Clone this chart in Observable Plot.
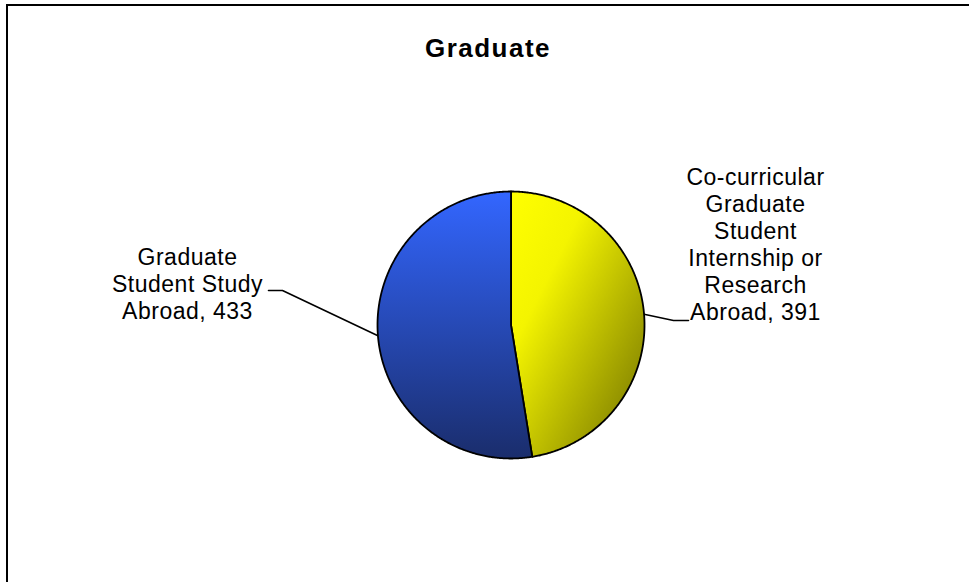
<!DOCTYPE html>
<html>
<head>
<meta charset="utf-8">
<script src="https://cdn.jsdelivr.net/npm/d3@7"></script>
<script src="https://cdn.jsdelivr.net/npm/@observablehq/plot@0.6"></script>
<style>
  html, body { margin: 0; padding: 0; background: #fff; }
  #page { position: relative; width: 969px; height: 582px; overflow: hidden; background: #fff; }
  #frame { position: absolute; left: 6px; top: 4px; right: -3px; bottom: -3px; border-left: 2px solid #000; border-top: 2px solid #000; }
  #title { position: absolute; left: 0; width: 976px; top: 35px; height: 30px; line-height: 26px; text-align: center;
           font-family: "Liberation Sans", Arial, sans-serif; font-weight: bold; font-size: 26px; letter-spacing: 1.5px; color: #000; }
  #chart { position: absolute; left: 0; top: 70px; }
</style>
</head>
<body>
<svg width="0" height="0" style="position:absolute">
  <defs>
    <linearGradient id="gradYellow" x1="0" y1="0" x2="1" y2="1">
      <stop offset="0" stop-color="#ffff00"/>
      <stop offset="0.3" stop-color="#f4f400"/>
      <stop offset="1" stop-color="#6e6e00"/>
    </linearGradient>
    <linearGradient id="gradBlue" x1="0" y1="0" x2="0" y2="1">
      <stop offset="0" stop-color="#3366ff"/>
      <stop offset="1" stop-color="#1a2d6c"/>
    </linearGradient>
  </defs>
</svg>
<div id="page">
  <div id="frame"></div>
  <div id="title">Graduate</div>
  <div id="chart"></div>
</div>
<script>
// ---- data ----
const categories = [
  "Co-curricular Graduate Student Internship or Research Abroad",
  "Graduate Student Study Abroad"
];
const values = [391, 433];
const labelTexts = [
  "Co-curricular\nGraduate\nStudent\nInternship or\nResearch\nAbroad",
  "Graduate\nStudent Study\nAbroad"
];
const sliceFills = ["url(#gradYellow)", "url(#gradBlue)"];

// ---- layout ----
const W = 969, H = 512;
const CX = 510.5, CY = 254.5, R = 133.5;
// label anchor (block center) and leader elbow/end offsets in pixels from pie center (y up)
const labelLayout = [
  {lx: 244.5, ly: 81.5, elbow: [162.5, 4.5], end: [177.5, 4.5]},
  {lx: -323.5, ly: 41.5, elbow: [-228.5, 34.5], end: [-242.5, 34.5]}
];

const pie = d3.pie().sort(null).value(d => d.value);
const arcs = pie(categories.map((c, i) => ({name: c, value: values[i], i})));

const marks = [];
arcs.forEach((a, k) => {
  const pts = [{x: 0, y: 0}];
  const n = Math.max(2, Math.ceil((a.endAngle - a.startAngle) / (Math.PI / 360)));
  for (let j = 0; j <= n; j++) {
    const t = a.startAngle + (a.endAngle - a.startAngle) * j / n;
    pts.push({x: R * Math.sin(t), y: R * Math.cos(t)});
  }
  marks.push(Plot.line(pts, {x: "x", y: "y", curve: "linear-closed", fill: sliceFills[k], stroke: "#000", strokeWidth: 1.8, strokeLinejoin: "round"}));
});

const leaders = [];
const labels = [];
arcs.forEach((a, k) => {
  const mid = (a.startAngle + a.endAngle) / 2;
  const L = labelLayout[k];
  leaders.push({x: R * Math.sin(mid), y: R * Math.cos(mid), k});
  leaders.push({x: L.elbow[0], y: L.elbow[1], k});
  leaders.push({x: L.end[0], y: L.end[1], k});
  labels.push({x: L.lx, y: L.ly, text: labelTexts[k] + ", " + values[k]});
});
marks.unshift(Plot.line(leaders, {x: "x", y: "y", z: "k", stroke: "#000", strokeWidth: 1.6}));
marks.push(Plot.text(labels, {x: "x", y: "y", text: "text", textAnchor: "middle", lineAnchor: "middle",
  fontSize: 23, lineHeight: 27 / 23, fill: "#000"}));

const chart = Plot.plot({
  width: W, height: H,
  margin: 0,
  x: {domain: [-CX, W - CX], range: [0, W], axis: null},
  y: {domain: [-(H - CY), CY], range: [H, 0], axis: null},
  style: {fontFamily: "'Liberation Sans', Arial, sans-serif", letterSpacing: "0.5px", background: "transparent", overflow: "visible"},
  marks
});
document.getElementById("chart").appendChild(chart);
</script>
</body>
</html>
